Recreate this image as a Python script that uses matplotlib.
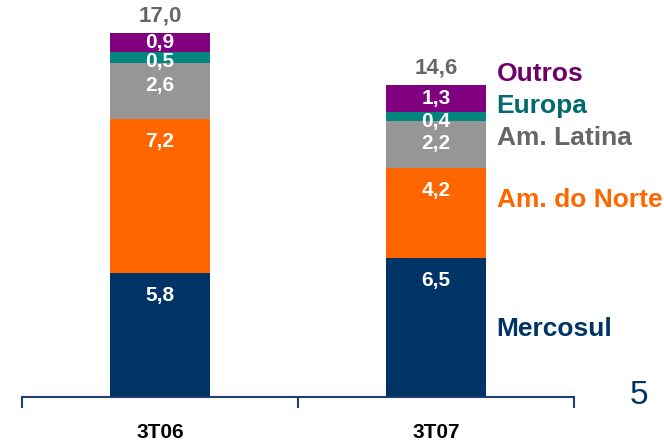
import matplotlib.pyplot as plt
from matplotlib.ticker import FixedLocator

# data
periods = ["3T06", "3T07"]
regions = ["Mercosul", "Am. do Norte", "Am. Latina", "Europa", "Outros"]
mercosul = [5.8, 6.5]
am_norte = [7.2, 4.2]
am_latina = [2.6, 2.2]
europa = [0.5, 0.4]
outros = [0.9, 1.3]
totals = ["17,0", "14,6"]

series = [mercosul, am_norte, am_latina, europa, outros]
bar_colors = ["#003366", "#FF6600", "#969696", "#00857F", "#800080"]
text_colors = ["#003366", "#FF6600", "#666666", "#006B6B", "#6B006B"]
# vertical spot of the region names, in data units
name_y = [3.2, 9.2, 12.1, 13.6, 15.1]

plt.rcParams["font.family"] = ["Liberation Sans", "DejaVu Sans"]
narrow = ["Liberation Sans Narrow", "Liberation Sans", "DejaVu Sans"]

fig = plt.figure(figsize=(6.64, 4.42), dpi=100)
ax = fig.add_axes([22 / 664, 1 - 397 / 442, 552 / 664, 397 / 442])

x = [0, 1]
bottom = [0, 0]
for vals, col in zip(series, bar_colors):
    ax.bar(x, vals, bottom=bottom, width=0.36, color=col, linewidth=0)
    for i in range(len(x)):
        top = bottom[i] + vals[i]
        off = max(min(vals[i] / 2, 1.05), 0.42)
        ax.text(x[i], top - off, ("%.1f" % vals[i]).replace(".", ","), ha="center", va="center",
                color="white", fontsize=15, fontweight="bold", family=narrow)
    bottom = [b + v for b, v in zip(bottom, vals)]

for i in range(len(x)):
    ax.text(x[i], bottom[i] + 0.3, totals[i], ha="center", va="bottom", color="#666666",
            fontsize=16, fontweight="bold")

# region names next to the second bar
for name, yy, col in zip(regions, name_y, text_colors):
    ax.text(1.22, yy, name, ha="left", va="center", color=col, fontsize=19, fontweight="bold")

ax.set_xlim(-0.5, 1.5)
ax.set_ylim(0, 18.55)
ax.set_xticks(x)
ax.set_xticklabels(periods, fontsize=15, fontweight="bold")
ax.xaxis.set_minor_locator(FixedLocator([-0.5, 0.5, 1.5]))
ax.tick_params(axis="x", which="major", length=0, pad=19)
ax.tick_params(axis="x", which="minor", length=8, width=1.5, color="#1F3F6F", direction="out")
ax.set_yticks([])
for s in ["top", "right", "left"]:
    ax.spines[s].set_visible(False)
ax.spines["bottom"].set_color("#1F3F6F")
ax.spines["bottom"].set_linewidth(1.5)

fig.text(639 / 664, 1 - 396 / 442, "5", ha="center", va="center", color="#003366", fontsize=24)

fig.savefig("out.png", dpi=100)
